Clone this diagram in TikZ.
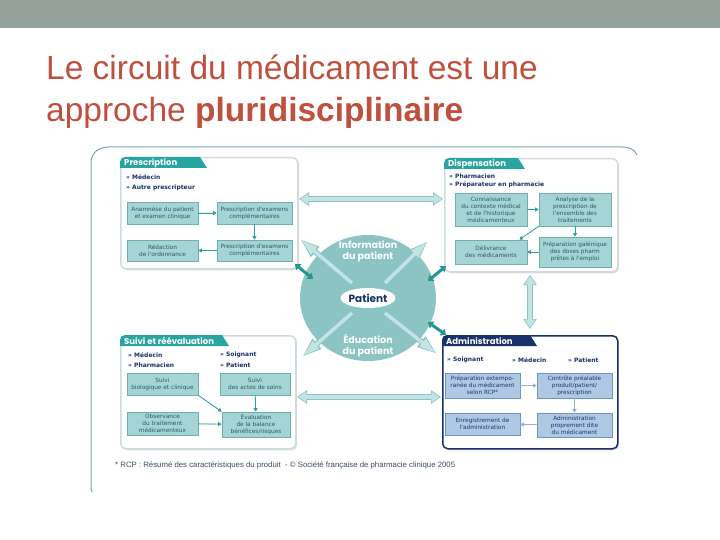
\documentclass[tikz,border=0pt]{standalone}
\usepackage{fontspec}
\setmainfont{Liberation Sans}
\newfontfamily\hdrfont{Poppins}
\newfontfamily\dvs{DejaVu Sans}
\usetikzlibrary{arrows.meta,shadows,shapes.geometric,calc}
\definecolor{bandgray}{RGB}{147,161,154}
\definecolor{titlered}{RGB}{192,80,62}
\definecolor{framec}{RGB}{120,170,170}
\definecolor{pborder}{RGB}{205,220,220}
\definecolor{tabteal}{RGB}{40,165,160}
\definecolor{navy}{RGB}{25,50,105}
\definecolor{boxfill}{RGB}{165,212,212}
\definecolor{boxedge}{RGB}{110,175,175}
\definecolor{boxtext}{RGB}{45,90,100}
\definecolor{arrteal}{RGB}{45,160,155}
\definecolor{circc}{RGB}{140,195,195}
\definecolor{admfill}{RGB}{175,200,228}
\definecolor{admedge}{RGB}{110,150,195}
\definecolor{admtext}{RGB}{30,55,110}
\definecolor{admarrow}{RGB}{150,175,205}
\definecolor{darkteal}{RGB}{35,150,145}
\definecolor{lfill}{RGB}{195,228,228}
\definecolor{ledge}{RGB}{140,195,195}
\definecolor{foottext}{RGB}{60,75,100}
\newcommand\mkpanel[7]{%
  \node[panelbox, draw=#7, minimum width=#4pt, minimum height=#5pt, anchor=north west] (#1) at (#2,#3) {};
  \begin{scope}
    \clip[rounded corners=5pt] (#1.north west) rectangle (#1.south east);
    \fill[#7tab] (#1.north west) -- ++(#6,0) -- ++(7,11) -- ++(-#6-7,0) -- cycle;
  \end{scope}}
\colorlet{pbordertab}{tabteal}
\colorlet{navytab}{navy}
\begin{document}
\begin{tikzpicture}[x=1pt,y=-1pt,
  panelbox/.style={fill=white, line width=1.5pt, rounded corners=5pt, inner sep=0pt,
     drop shadow={shadow xshift=1.2pt, shadow yshift=-1.5pt, fill=black!25, opacity=0.5}},
  bx/.style={draw=boxedge, fill=boxfill, line width=0.7pt, align=center, text=boxtext,
     font=\dvs\fontsize{5.8}{7}\selectfont, inner sep=0pt},
  abx/.style={bx, draw=admedge, fill=admfill, text=admtext},
  inar/.style={draw=arrteal, fill=arrteal, line width=0.8pt, -{Triangle[length=3.5pt,width=4pt]}},
  adar/.style={inar, draw=admarrow, fill=admarrow},
  who/.style={anchor=west, text=navy, font=\dvs\bfseries\fontsize{6}{7}\selectfont, inner sep=0pt},
  hdr/.style={anchor=west, text=white, font=\hdrfont\bfseries\fontsize{8.5}{9}\selectfont, inner sep=0pt},
  xout/.style={draw=ledge, line width=5.5pt, -{Triangle[length=20pt,width=12pt]}},
  xin/.style={draw=lfill, line width=3.5pt, -{Triangle[length=17pt,width=9pt]}, shorten >=1.5pt},
  dout/.style={draw=ledge, line width=6pt, {Triangle[length=10pt,width=13pt]}-{Triangle[length=10pt,width=13pt]}},
  din/.style={draw=lfill, line width=4pt, {Triangle[length=8pt,width=10pt]}-{Triangle[length=8pt,width=10pt]}, shorten >=1.3pt, shorten <=1.3pt},
  dk/.style={draw=darkteal, line width=3pt, {Triangle[length=5pt,width=8pt]}-{Triangle[length=5pt,width=8pt]}}
]
\path[use as bounding box] (0,0) rectangle (720,540);
% top band and title
\fill[bandgray] (0,0) rectangle (720,28);
\node[anchor=base west, inner sep=0pt, text=titlered, font=\fontsize{33.5}{40}\selectfont] (t1) at (46,80) {Le circuit du médicament est une};
\node[anchor=base west, inner sep=0pt, text=titlered, font=\fontsize{33.5}{40}\selectfont] (t2) at (46,122) {approche \textbf{pluridisciplinaire}};
% outer frame
\draw[framec, line width=1pt] (92,492) .. controls (91,489) .. (91,484) -- (91,164)
   .. controls (91,154) and (96,148) .. (108,147) -- (622,147) .. controls (630,147) and (635,150) .. (637,155);

% panels
\mkpanel{P}{120}{157}{177}{111}{80}{pborder}
\mkpanel{D}{444}{158}{173}{113}{74}{pborder}
\mkpanel{S}{120}{335}{175}{113}{102}{pborder}
\mkpanel{A}{442}{335}{175}{113}{88}{navy}
\node[hdr] (Ph) at (124,163) {Prescription};
\node[hdr] (Dh) at (448,164) {Dispensation};
\node[hdr] (Sh) at (124,340.5) {Suivi et réévaluation};
\node[hdr] (Ah) at (446,341) {Administration};

% Prescription
\node[who] (P1) at (126,177) {» Médecin};
\node[who] (P2) at (126,188) {» Autre prescripteur};
\node[bx, minimum width=71pt, minimum height=22pt] (A1) at (162.5,213) {Anamnèse du patient\\et examen clinique};
\node[bx, minimum width=75pt, minimum height=22pt] (A2) at (254.5,213) {Prescription d'examens\\complémentaires};
\node[bx, minimum width=71pt, minimum height=21pt] (A3) at (162.5,250.5) {Rédaction\\de l'ordonnance};
\node[bx, minimum width=75pt, minimum height=21pt] (A4) at (254.5,250.5) {Prescription d'examens\\complémentaires};
\draw[inar] (A1) -- (A2);
\draw[inar] (A2) -- (A4);
\draw[inar] (A4) -- (A3);

% Dispensation
\node[who] (D1w) at (449,176) {» Pharmacien};
\node[who] (D2w) at (449,185) {» Préparateur en pharmacie};
\node[bx, minimum width=72pt, minimum height=33pt] (B1) at (491,209.5) {Connaissance\\du contexte médical\\et de l'historique\\médicamenteux};
\node[bx, minimum width=72pt, minimum height=33pt] (B2) at (575,209.5) {Analyse de la\\prescription de\\l'ensemble des\\traitements};
\node[bx, minimum width=72pt, minimum height=24pt] (B3) at (491,252) {Délivrance\\des médicaments};
\node[bx, minimum width=72pt, minimum height=30pt] (B4) at (575,252) {Préparation galénique\\des doses pharm\\prêtes à l'emploi};
\draw[inar] (B1) -- (B2);
\draw[inar] (B2) -- (B4);
\draw[inar] (B4) -- (B3);
\draw[inar] (B2.south west) -- ([xshift=-8pt]B3.north east);

% Suivi
\node[who] (S1) at (128,355) {» Médecin};
\node[who] (S2) at (128,365.5) {» Pharmacien};
\node[who] (S3) at (220,355) {» Soignant};
\node[who] (S4) at (220,365.5) {» Patient};
\node[bx, minimum width=71pt, minimum height=22pt] (C1) at (162.5,384) {Suivi\\biologique et clinique};
\node[bx, minimum width=70pt, minimum height=22pt] (C2) at (255,384) {Suivi\\des actes de soins};
\node[bx, minimum width=71pt, minimum height=23pt] (C3) at (162.5,423.5) {Observance\\du traitement\\médicamenteux};
\node[bx, minimum width=68pt, minimum height=25pt] (C4) at (256,424.5) {Évaluation\\de la balance\\bénéfices/risques};
\draw[inar] (C1.south east) -- (C4.north west);
\draw[inar] (C2) -- (C4);
\draw[inar] (C3) -- (C4);

% Administration
\node[who] (A1w) at (447,360) {» Soignant};
\node[who] (A2w) at (512,360) {» Médecin};
\node[who] (A3w) at (568,360) {» Patient};
\node[abx, minimum width=75pt, minimum height=25pt] (D1) at (482.5,385.5) {Préparation extempo-\\ranée du médicament\\selon RCP*};
\node[abx, minimum width=75pt, minimum height=25pt] (D2) at (574.5,385.5) {Contrôle préalable\\produit/patient/\\prescription};
\node[abx, minimum width=75pt, minimum height=22pt] (D3) at (482.5,424) {Enregistrement de\\l'administration};
\node[abx, minimum width=75pt, minimum height=24pt] (D4) at (574.5,425) {Administration\\proprement dite\\du médicament};
\draw[adar] (D1) -- (D2);
\draw[adar] (D2) -- (D4);
\draw[adar] (D4) -- (D3);

% links between panels
\coordinate (hPD1) at (299,199); \coordinate (hPD2) at (443,199);
\coordinate (vDA1) at (530,275); \coordinate (vDA2) at (530,329);
\coordinate (hSA1) at (297,397); \coordinate (hSA2) at (441,397);
\draw[dout] (hPD1) -- (hPD2); \draw[din] (hPD1) -- (hPD2);
\draw[dout] (vDA1) -- (vDA2); \draw[din] (vDA1) -- (vDA2);
\draw[dout] (hSA1) -- (hSA2); \draw[din] (hSA1) -- (hSA2);

% centre
\node[ellipse, fill=circc, minimum width=136pt, minimum height=126pt, inner sep=0pt] (circ) at (368,298) {};
\coordinate (tli) at (352,283); \coordinate (tlo) at (300,239);
\coordinate (tri) at (385,283); \coordinate (tro) at (428,241);
\coordinate (bli) at (352,313); \coordinate (blo) at (302,357);
\coordinate (bri) at (385,313); \coordinate (bro) at (437,354);
\foreach \a/\b in {tli/tlo,tri/tro,bli/blo,bri/bro}{
  \draw[xout] (\a) -- (\b); \draw[xin] (\a) -- (\b);}
\node[text=white, align=center, inner sep=0pt, font=\hdrfont\bfseries\fontsize{9.5}{11}\selectfont] (info) at (368,251) {Information\\du patient};
\node[text=white, align=center, inner sep=0pt, font=\hdrfont\bfseries\fontsize{9.5}{11}\selectfont] (edu) at (368,346) {Éducation\\du patient};
\node[ellipse, fill=white, minimum width=54pt, minimum height=20pt, inner sep=0pt, text=navy, font=\hdrfont\bfseries\fontsize{10.5}{12}\selectfont] (pat) at (368,298) {Patient};
% dark short arrows
\coordinate (kP1) at (295,264); \coordinate (kP2) at (313,279);
\coordinate (kD1) at (428,281); \coordinate (kD2) at (446,266);
\coordinate (kA1) at (428,322); \coordinate (kA2) at (446,335);
\draw[dk] (kP1) -- (kP2);
\draw[dk] (kD1) -- (kD2);
\draw[dk] (kA1) -- (kA2);

% footer
\node[anchor=base west, inner sep=0pt, text=foottext, font=\fontsize{7.8}{9}\selectfont] (foot) at (115,467) {* RCP : Résumé des caractéristiques du produit \ - © Société française de pharmacie clinique 2005};
\end{tikzpicture}
\end{document}
